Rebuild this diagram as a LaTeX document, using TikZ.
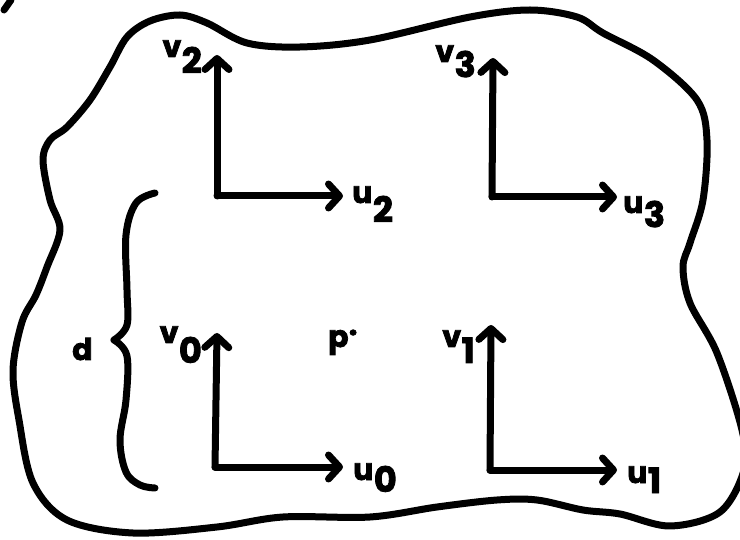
\documentclass[tikz,border=0pt]{standalone}
\usepackage{fontspec}
\newfontfamily\hand{Poppins}[BoldFeatures={FakeBold=2.5}]
\usetikzlibrary{arrows.meta}
\tikzset{
  ink/.style={line width=7pt, line cap=round, line join=round},
  axis/.style={ink, -{Straight Barb[length=11pt,width=24pt,round]}},
  lab/.style={anchor=base west, inner sep=0pt, font=\fontsize{30}{30}\selectfont\hand\bfseries},
  labr/.style={lab, anchor=base east}
}
\newcommand{\sublab}[3]{#1\kern0.5pt\raisebox{#3}{\fontsize{35}{35}\selectfont #2}}
\begin{document}
\begin{tikzpicture}[x=1pt,y=-1pt]
\useasboundingbox (0,0) rectangle (740,540);
% region outline
\draw[ink] plot[smooth cycle, tension=0.55] coordinates {
 (180,15) (150,21) (127,37) (110,67) (90,100) (67,127) (50,140) (43,160)
 (50,200) (60,230) (47,267) (36,295) (22,322) (13,370) (19,420) (33,483)
 (67,520) (133,533) (217,527) (283,517) (370,517) (437,507) (497,500)
 (537,500) (583,510) (620,514) (670,526) (720,512) (744,470) (742,430)
 (717,353) (690,303) (683,267) (690,243) (703,200) (707,140) (697,100)
 (653,60) (603,33) (577,17) (530,10) (470,17) (370,40) (300,47) (247,43) (207,23)};
% small stroke at top-left corner
\coordinate (t1) at (4,10);
\coordinate (t2) at (11,0);
\draw[ink] (t1) -- (t2);
% brace
\draw[ink] plot[smooth, tension=0.6] coordinates {(155,193) (136,203) (126,235) (127,290) (127,325) (114,340)};
\draw[ink] plot[smooth, tension=0.6] coordinates {(114,340) (127,356) (126,400) (120,440) (126,472) (140,485) (155,488)};
\node[lab] (d) at (72,360) {d};
% frames
\coordinate (o2) at (217,196); \coordinate (v2) at (217,55); \coordinate (u2) at (343,196);
\coordinate (o3) at (492,197); \coordinate (v3) at (493,58); \coordinate (u3) at (617,197);
\coordinate (o0) at (215,467); \coordinate (v0) at (217,333); \coordinate (u0) at (343,467);
\coordinate (o1) at (490,470); \coordinate (v1) at (491,325); \coordinate (u1) at (617,470);
\foreach \i in {0,1,2,3}{
  \draw[axis] (o\i) -- (v\i);
  \draw[axis] (o\i) -- (u\i);
}
% labels
\node[labr] (lv2) at (202,57) {\sublab{v}{2}{-16pt}};
\node[lab] (lu2) at (352,203) {\sublab{u}{2}{-19pt}};
\node[labr] (lv3) at (476,62) {\sublab{v}{3}{-15pt}};
\node[lab] (lu3) at (623,213) {\sublab{u}{3}{-14pt}};
\node[labr] (lv0) at (202,343) {\sublab{v}{0}{-20pt}};
\node[lab] (lu0) at (353,480) {\sublab{u}{0}{-12pt}};
\node[labr] (lv1) at (475,347) {\sublab{v}{1}{-16pt}};
\node[lab] (lu1) at (627,483) {\sublab{u}{1}{-10pt}};
\node[lab] (p) at (328,347) {p\raisebox{5pt}{·}};
\end{tikzpicture}
\end{document}
